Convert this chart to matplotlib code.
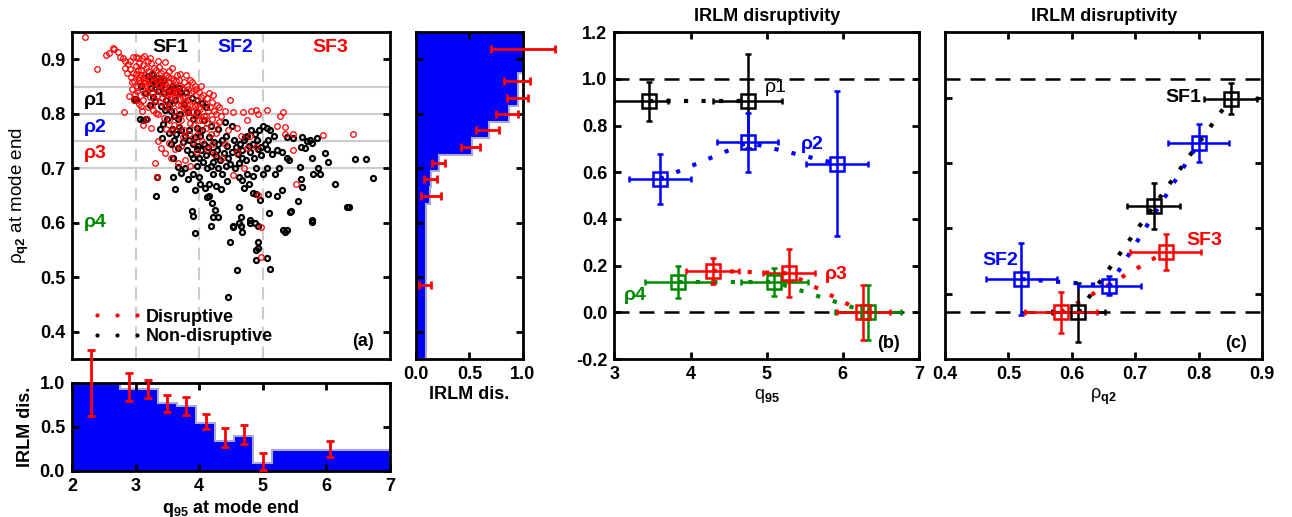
import numpy as np
import matplotlib
matplotlib.use("Agg")
import matplotlib.pyplot as plt
from matplotlib.lines import Line2D

# ======================= DATA =======================
# (a) scatter: q95 and rho_q2 at mode end
dis_q = [2.20, 2.40, 2.54, 2.58, 2.64, 2.66, 2.72, 2.76, 2.80, 2.84, 2.88, 2.92, 2.96, 3.00, 3.04, 3.10,
         2.92, 2.96, 3.00, 3.04, 3.08, 3.12, 3.16, 3.20, 3.24, 3.28, 3.32, 3.36, 3.40, 3.44, 3.48, 3.52,
         3.56, 3.60, 3.64, 3.70, 3.76, 3.82, 3.88, 3.94, 4.00, 4.06, 4.12, 4.20, 4.28, 3.58, 3.46, 3.70,
         2.95, 3.02, 3.06, 3.10, 3.14, 3.18, 3.22, 3.26, 3.30, 3.34, 3.38, 3.42, 3.46, 3.50, 3.54, 3.58,
         3.62, 3.66, 3.70, 3.74, 3.78, 3.82, 3.86, 3.90, 3.94, 3.98, 4.02, 4.08, 4.14, 4.20, 4.26, 4.32,
         4.40, 2.90, 2.98, 3.05, 3.12, 3.20, 3.28, 3.36, 3.44, 3.52, 3.60, 3.68, 3.76, 3.84, 3.92, 4.00,
         4.10, 4.18, 3.10, 3.18, 2.82, 3.25, 3.36, 3.40, 3.46, 3.52, 3.56, 3.62, 3.66, 3.72, 3.78, 3.86,
         3.30, 3.34, 3.90, 3.96, 4.04, 4.12, 4.20, 4.24, 4.48, 4.54, 4.69, 4.75, 4.90, 5.06, 4.93, 4.82,
         4.75, 4.90, 4.54, 4.93, 4.98, 4.98, 5.22, 5.32, 5.27, 5.35, 5.35, 5.48, 5.48, 5.53, 5.95, 6.42,
         4.60, 4.66, 4.45, 4.40, 4.36, 4.60, 4.80, 4.70, 3.05, 3.15, 3.25, 3.35, 3.45, 3.55, 3.65, 3.75,
         2.93, 2.97, 3.01, 3.03, 3.07, 3.09, 3.11, 3.13, 3.15, 3.17, 3.19, 3.21, 3.23, 3.27, 3.29, 3.31,
         3.33, 3.35, 3.37, 3.39, 3.41, 3.43, 3.47, 3.49, 3.51, 3.53, 3.55, 3.57, 3.59, 3.61, 3.63, 3.67,
         3.69, 3.71, 3.73, 3.77, 3.79, 3.81, 3.83, 3.87, 3.89, 3.91, 3.93, 3.97, 3.99, 4.03, 4.05, 4.09,
         4.13, 4.17, 4.23, 4.27, 4.31, 4.35, 3.02, 3.08, 2.94, 2.99, 3.26, 3.32, 3.47, 3.63, 3.71, 3.85,
         3.57, 3.74, 3.48, 3.97, 3.12, 2.87, 2.83, 3.05, 3.14, 3.22, 3.36, 3.43, 3.53, 3.65, 3.79, 3.85,
         3.95, 4.03, 4.15, 4.22, 3.74, 3.84, 4.00, 4.10, 4.26]
dis_rho = [0.942, 0.883, 0.908, 0.912, 0.921, 0.920, 0.914, 0.905, 0.903, 0.897, 0.892, 0.898, 0.905, 0.904, 0.903, 0.902,
           0.882, 0.875, 0.888, 0.880, 0.872, 0.890, 0.884, 0.878, 0.893, 0.870, 0.881, 0.866, 0.876, 0.862, 0.871, 0.858,
           0.866, 0.850, 0.860, 0.852, 0.859, 0.846, 0.858, 0.852, 0.840, 0.834, 0.829, 0.822, 0.816, 0.884, 0.895, 0.874,
           0.858, 0.850, 0.862, 0.845, 0.856, 0.841, 0.852, 0.838, 0.848, 0.833, 0.844, 0.829, 0.840, 0.825, 0.836, 0.820,
           0.831, 0.816, 0.827, 0.812, 0.823, 0.808, 0.818, 0.804, 0.814, 0.800, 0.810, 0.796, 0.806, 0.790, 0.800, 0.786,
           0.806, 0.833, 0.826, 0.818, 0.826, 0.812, 0.808, 0.800, 0.793, 0.788, 0.780, 0.776, 0.770, 0.764, 0.780, 0.770,
           0.775, 0.764, 0.805, 0.790, 0.803, 0.775, 0.750, 0.738, 0.728, 0.746, 0.720, 0.735, 0.710, 0.742, 0.715, 0.705,
           0.710, 0.685, 0.748, 0.730, 0.750, 0.735, 0.745, 0.726, 0.825, 0.804, 0.804, 0.789, 0.807, 0.807, 0.800, 0.805,
           0.737, 0.740, 0.688, 0.651, 0.593, 0.538, 0.777, 0.804, 0.796, 0.776, 0.764, 0.764, 0.734, 0.672, 0.761, 0.764,
           0.775, 0.760, 0.770, 0.745, 0.720, 0.730, 0.760, 0.700, 0.868, 0.860, 0.866, 0.855, 0.850, 0.842, 0.838, 0.830,
           0.867, 0.861, 0.873, 0.842, 0.857, 0.881, 0.866, 0.838, 0.872, 0.853, 0.897, 0.864, 0.832, 0.857, 0.884, 0.826,
           0.861, 0.853, 0.887, 0.822, 0.866, 0.847, 0.856, 0.836, 0.868, 0.812, 0.849, 0.831, 0.862, 0.805, 0.842, 0.838,
           0.862, 0.817, 0.846, 0.832, 0.807, 0.852, 0.826, 0.838, 0.815, 0.842, 0.797, 0.826, 0.812, 0.831, 0.789, 0.818,
           0.783, 0.812, 0.806, 0.779, 0.812, 0.797, 0.826, 0.815, 0.846, 0.837, 0.816, 0.802, 0.812, 0.797, 0.788, 0.783,
           0.768, 0.758, 0.772, 0.761, 0.779, 0.876, 0.885, 0.893, 0.906, 0.903, 0.897, 0.878, 0.879, 0.871, 0.871, 0.862,
           0.845, 0.851, 0.838, 0.835, 0.802, 0.795, 0.788, 0.797, 0.765]

nondis_q = [2.99, 3.00, 3.07, 3.12, 3.17, 3.41, 3.20, 3.26, 3.28, 3.24, 3.32, 3.36, 3.40, 3.44, 3.48, 3.40,
            3.46, 3.52, 3.56, 3.60, 3.66, 3.70, 3.50, 3.58, 3.64, 3.72, 3.78, 3.84, 3.90, 3.96, 4.02, 4.08,
            4.14, 4.20, 4.26, 4.30, 4.36, 4.42, 3.80, 3.88, 3.96, 4.04, 4.10, 3.70, 3.60, 3.90, 3.96, 4.00,
            4.06, 3.96, 4.12, 4.18, 4.22, 4.30, 4.36, 4.42, 4.46, 4.52, 4.58, 4.64, 4.70, 4.76, 4.82, 4.88,
            4.94, 5.00, 5.06, 5.12, 4.56, 4.62, 4.68, 4.74, 4.80, 4.86, 4.92, 4.98, 4.62, 4.68, 4.76, 4.84,
            4.90, 5.00, 5.06, 3.33, 3.59, 3.62, 3.59, 3.90, 3.78, 3.90, 3.93, 3.88, 3.90, 3.94, 3.99, 4.15,
            4.15, 4.20, 4.25, 4.12, 4.22, 4.30, 4.19, 4.48, 4.53, 4.63, 4.66, 4.59, 4.80, 4.88, 4.90, 4.90,
            5.06, 5.11, 4.93, 3.32, 4.45, 4.90, 5.09, 4.96, 4.63, 5.10, 5.44, 6.33, 4.66, 4.80, 4.93, 4.54,
            4.68, 5.35, 5.78, 4.93, 5.38, 5.30, 5.61, 5.66, 5.77, 5.38, 5.41, 5.58, 5.60, 5.62, 5.79, 5.77,
            5.87, 5.90, 5.98, 6.03, 6.14, 6.35, 6.45, 6.63, 6.73, 5.43, 5.32, 5.38, 5.77, 5.70, 5.75, 5.85,
            5.48, 5.22, 5.14, 5.06, 5.18, 5.25, 5.20, 5.30, 5.22, 5.55, 5.60, 3.26, 3.39, 3.57, 3.68, 2.97,
            3.38, 3.43, 3.52, 3.55, 3.61, 3.67, 3.69, 3.74, 3.81, 3.84, 3.87, 3.93, 3.98, 4.03, 4.05, 4.11,
            4.16, 4.21, 4.24, 4.28, 4.33, 4.39, 4.44, 4.49, 4.55, 4.61, 4.67, 4.72, 4.78, 4.85, 4.91, 4.97,
            5.03, 5.09, 3.27, 3.31, 3.35, 3.45, 3.53, 3.62, 3.76, 3.83, 3.97, 4.07, 4.19, 4.29, 4.41, 4.51,
            3.22, 3.15, 3.09, 4.01, 4.09, 4.27, 4.35, 4.44, 4.71, 4.79, 4.85, 3.71, 3.66, 3.82]
nondis_rho = [0.825, 0.828, 0.790, 0.788, 0.790, 0.755, 0.870, 0.862, 0.872, 0.848, 0.855, 0.842, 0.852, 0.838, 0.825, 0.815,
              0.808, 0.818, 0.806, 0.797, 0.790, 0.800, 0.790, 0.772, 0.764, 0.770, 0.760, 0.752, 0.790, 0.775, 0.760, 0.745,
              0.740, 0.730, 0.722, 0.745, 0.752, 0.760, 0.840, 0.830, 0.826, 0.820, 0.812, 0.840, 0.848, 0.745, 0.735, 0.720,
              0.712, 0.705, 0.700, 0.705, 0.690, 0.700, 0.690, 0.705, 0.720, 0.730, 0.740, 0.745, 0.752, 0.760, 0.770, 0.764,
              0.770, 0.777, 0.775, 0.770, 0.700, 0.710, 0.720, 0.715, 0.730, 0.720, 0.735, 0.740, 0.685, 0.678, 0.690, 0.686,
              0.700, 0.690, 0.700, 0.685, 0.685, 0.663, 0.720, 0.720, 0.700, 0.690, 0.660, 0.622, 0.613, 0.582, 0.685, 0.672,
              0.650, 0.636, 0.623, 0.648, 0.611, 0.610, 0.594, 0.565, 0.593, 0.600, 0.595, 0.513, 0.600, 0.600, 0.550, 0.532,
              0.535, 0.516, 0.565, 0.649, 0.464, 0.653, 0.653, 0.642, 0.629, 0.618, 0.622, 0.630, 0.610, 0.605, 0.595, 0.594,
              0.583, 0.583, 0.602, 0.553, 0.758, 0.730, 0.758, 0.737, 0.746, 0.720, 0.716, 0.703, 0.680, 0.666, 0.690, 0.720,
              0.700, 0.690, 0.728, 0.712, 0.672, 0.630, 0.718, 0.718, 0.682, 0.620, 0.587, 0.587, 0.605, 0.750, 0.752, 0.755,
              0.755, 0.734, 0.727, 0.736, 0.760, 0.700, 0.690, 0.660, 0.650, 0.640, 0.740, 0.874, 0.862, 0.852, 0.848, 0.828,
              0.773, 0.781, 0.765, 0.744, 0.752, 0.738, 0.776, 0.748, 0.733, 0.771, 0.727, 0.758, 0.742, 0.733, 0.771, 0.724,
              0.757, 0.712, 0.748, 0.733, 0.716, 0.728, 0.741, 0.709, 0.752, 0.726, 0.734, 0.757, 0.741, 0.745, 0.752, 0.725,
              0.745, 0.752, 0.832, 0.824, 0.866, 0.862, 0.842, 0.826, 0.818, 0.804, 0.803, 0.789, 0.778, 0.772, 0.786, 0.778,
              0.816, 0.839, 0.852, 0.672, 0.664, 0.668, 0.662, 0.676, 0.664, 0.671, 0.655, 0.691, 0.702, 0.681]

# bottom histogram: IRLM disruptivity vs q95
q_edges = [2.0, 2.75, 3.05, 3.35, 3.65, 3.95, 4.25, 4.55, 4.85, 5.15, 7.0]
q_frac = [1.0, 0.935, 0.935, 0.77, 0.735, 0.545, 0.345, 0.40, 0.095, 0.235]
q_err_x = [2.3, 2.9, 3.2, 3.5, 3.8, 4.1, 4.4, 4.7, 5.0, 6.05]
q_err_y = [1.0, 0.95, 0.93, 0.765, 0.74, 0.565, 0.38, 0.415, 0.11, 0.25]
q_err = [0.37, 0.16, 0.10, 0.10, 0.10, 0.085, 0.11, 0.11, 0.10, 0.086]

# right histogram: IRLM disruptivity vs rho_q2
rho_edges = [0.35, 0.635, 0.665, 0.695, 0.725, 0.755, 0.785, 0.815, 0.845, 0.875, 0.95]
rho_frac = [0.094, 0.135, 0.14, 0.214, 0.525, 0.686, 0.874, 0.96, 0.96, 1.0]
rho_err_y = [0.485, 0.65, 0.68, 0.71, 0.74, 0.77, 0.80, 0.83, 0.86, 0.92]
rho_err_x = [0.087, 0.14, 0.134, 0.21, 0.51, 0.67, 0.855, 0.95, 0.945, 1.0]
rho_err = [0.055, 0.09, 0.06, 0.063, 0.09, 0.105, 0.105, 0.095, 0.125, 0.30]

# (b) disruptivity vs q95 in rho bins
b_series = {
    "rho1": dict(q=[3.45, 4.75], d=[0.905, 0.905], dq=[[0.45, 0.45], [0.25, 0.45]], dd=[0.084, 0.20]),
    "rho2": dict(q=[3.60, 4.75, 5.92], d=[0.571, 0.728, 0.637], dq=[0.41, 0.405, 0.41], dd=[0.108, 0.126, 0.31]),
    "rho3": dict(q=[4.29, 5.29, 6.27], d=[0.178, 0.167, 0.0], dq=[0.345, 0.34, 0.35], dd=[0.056, 0.103, 0.117]),
    "rho4": dict(q=[3.84, 5.10, 6.33], d=[0.130, 0.130, 0.0], dq=[0.44, 0.44, 0.43], dd=[0.068, 0.06, 0.117]),
}
# (c) disruptivity vs rho_q2 in q95 bins
c_series = {
    "SF1": dict(r=[0.610, 0.729, 0.850], d=[0.0, 0.456, 0.916], dr=[0.042, 0.042, 0.042], dd=[0.125, 0.10, 0.067]),
    "SF2": dict(r=[0.520, 0.659, 0.800], d=[0.143, 0.114, 0.726], dr=[0.056, 0.05, 0.048], dd=[0.153, 0.04, 0.082]),
    "SF3": dict(r=[0.583, 0.748], d=[0.0, 0.26], dr=[0.057, 0.056], dd=[0.088, 0.077]),
}
# ====================================================

RED, BLUE, GREEN = "#ff0000", "#0000ff", "#008a00"
COLS = {"rho1": "k", "rho2": BLUE, "rho3": RED, "rho4": GREEN, "SF1": "k", "SF2": BLUE, "SF3": RED}

plt.rcParams["font.family"] = ["Liberation Sans", "DejaVu Sans"]
plt.rcParams["font.size"] = 13
plt.rcParams["font.weight"] = "bold"
plt.rcParams["mathtext.fontset"] = "custom"
plt.rcParams["mathtext.rm"] = "Liberation Sans"
plt.rcParams["mathtext.bf"] = "Liberation Sans:bold"
plt.rcParams["mathtext.it"] = "Liberation Sans:italic"
plt.rcParams["axes.linewidth"] = 2

def style(ax):
    ax.tick_params(direction="in", width=2, length=5, top=True, right=True, labelsize=13, pad=5)
    for lab in ax.get_xticklabels() + ax.get_yticklabels():
        lab.set_fontweight("bold")

def noclip(eb):
    for art in eb.lines[1] + eb.lines[2]:
        art.set_clip_on(False)

fig = plt.figure(figsize=(12.92, 5.17), dpi=100)
ax_a = fig.add_axes([0.0557, 0.3056, 0.2461, 0.632])
ax_q = fig.add_axes([0.0557, 0.0890, 0.2461, 0.1702])
ax_r = fig.add_axes([0.3220, 0.3056, 0.0826, 0.632])
ax_b = fig.add_axes([0.4755, 0.3056, 0.2358, 0.632])
ax_c = fig.add_axes([0.7314, 0.3056, 0.2456, 0.632])

# ---------- (a) scatter ----------
for y in [0.85, 0.80, 0.75, 0.70]:
    ax_a.axhline(y, color="#cccccc", lw=1.5, zorder=0)
for x in [3, 4, 5]:
    ax_a.axvline(x, color="#cccccc", lw=1.5, dashes=(6, 3.5), zorder=0)
ax_a.plot(nondis_q, nondis_rho, "o", ms=3.6, mfc="none", mec="k", mew=1.6, zorder=2)
ax_a.plot(dis_q, dis_rho, "o", ms=4, mfc="none", mec=RED, mew=0.9, zorder=3)
ax_a.set_xlim(2, 7)
ax_a.set_ylim(0.35, 0.95)
ax_a.set_xticks([])
ax_a.set_yticks([0.4, 0.5, 0.6, 0.7, 0.8, 0.9])
ax_a.set_ylabel("ρ$_{\\mathrm{q2}}$ at mode end", fontweight="normal", fontsize=13.5, labelpad=6)
for txt, x, c in [("SF1", 3.54, "k"), ("SF2", 4.56, BLUE), ("SF3", 6.06, RED)]:
    ax_a.text(x, 0.922, txt, color=c, ha="center", va="center", fontsize=14)
for txt, y, c in [("ρ1", 0.825, "k"), ("ρ2", 0.775, BLUE), ("ρ3", 0.727, RED), ("ρ4", 0.600, GREEN)]:
    ax_a.text(2.18, y, txt, color=c, ha="left", va="center", fontsize=14)
ax_a.text(6.75, 0.382, "(a)", ha="right", va="center", fontsize=13)
hand = [Line2D([], [], marker=".", ms=4, ls="none", color=RED),
        Line2D([], [], marker=".", ms=4, ls="none", color="k")]
ax_a.legend(hand, ["Disruptive", "Non-disruptive"], loc="lower left", bbox_to_anchor=(0.04, 0.02),
            frameon=False, numpoints=3, handlelength=2.8, handletextpad=0.2, labelspacing=0.15,
            borderaxespad=0, prop={"weight": "bold", "size": 13})
style(ax_a)

# ---------- bottom histogram ----------
ax_q.stairs(q_frac, q_edges, fill=True, color=BLUE, zorder=1)
ax_q.stairs(q_frac, q_edges, color="#a8a8d8", lw=1.5, zorder=1)
eb = ax_q.errorbar(q_err_x, q_err_y, yerr=q_err, fmt="none", ecolor=RED, elinewidth=2,
                   capsize=3, capthick=2, zorder=3)
noclip(eb)
ax_q.set_xlim(2, 7)
ax_q.set_ylim(0, 1.0)
ax_q.set_xticks([2, 3, 4, 5, 6, 7])
ax_q.set_yticks([0.0, 0.5, 1.0])
ax_q.set_yticklabels(["0.0", "0.5", "1.0"])
ax_q.set_xlabel("q$_{\\mathbf{95}}$ at mode end", fontweight="bold", labelpad=2)
ax_q.set_ylabel("IRLM dis.", fontweight="bold")
style(ax_q)

# ---------- right histogram ----------
ax_r.stairs(rho_frac, rho_edges, fill=True, color=BLUE, orientation="horizontal", zorder=1)
ax_r.stairs(rho_frac, rho_edges, color="#a8a8d8", lw=1.5, orientation="horizontal", zorder=1)
eb = ax_r.errorbar(rho_err_x, rho_err_y, xerr=rho_err, fmt="none", ecolor=RED, elinewidth=2,
                   capsize=3, capthick=2, zorder=3)
noclip(eb)
ax_r.set_xlim(0, 1.0)
ax_r.set_ylim(0.35, 0.95)
ax_r.set_xticks([0.0, 0.5, 1.0])
ax_r.set_xticklabels(["0.0", "0.5", "1.0"])
ax_r.set_yticks([0.4, 0.5, 0.6, 0.7, 0.8, 0.9])
ax_r.set_yticklabels([])
ax_r.set_xlabel("IRLM dis.", fontweight="bold", labelpad=2)
style(ax_r)

# ---------- (b) ----------
dots = dict(lw=3, dashes=(1, 3.2), dash_capstyle="butt")
for ax in (ax_b, ax_c):
    ax.axhline(1.0, color="k", lw=1.8, dashes=(6, 4), zorder=1)
    ax.axhline(0.0, color="k", lw=1.8, dashes=(6, 4), zorder=1)
for key in ["rho1", "rho2", "rho4", "rho3"]:
    s = b_series[key]
    c = COLS[key]
    ax_b.plot(s["q"], s["d"], color=c, zorder=2, **dots)
    ax_b.errorbar(s["q"], s["d"], xerr=s["dq"], yerr=s["dd"], fmt="s", ms=10, mfc="none",
                  mec=c, mew=1.8, ecolor=c, elinewidth=1.8, capsize=2, capthick=1.8, zorder=3)
ax_b.set_xlim(3, 7)
ax_b.set_ylim(-0.2, 1.2)
ax_b.set_xticks([3, 4, 5, 6, 7])
ax_b.set_yticks(np.round(np.arange(-0.2, 1.21, 0.2), 1))
ax_b.set_yticklabels(["-0.2", "0.0", "0.2", "0.4", "0.6", "0.8", "1.0", "1.2"])
ax_b.set_xlabel("q$_{\\mathrm{95}}$", fontweight="normal", labelpad=3)
ax_b.set_title("IRLM disruptivity", fontweight="bold", fontsize=13, pad=8)
ax_b.text(4.98, 0.965, "ρ1", color="k", ha="left", va="center", fontsize=14, fontweight="normal")
ax_b.text(5.45, 0.72, "ρ2", color=BLUE, ha="left", va="center", fontsize=14)
ax_b.text(5.76, 0.164, "ρ3", color=RED, ha="left", va="center", fontsize=14)
ax_b.text(3.13, 0.07, "ρ4", color=GREEN, ha="left", va="center", fontsize=14)
ax_b.text(6.75, -0.135, "(b)", ha="right", va="center", fontsize=13)
style(ax_b)

# ---------- (c) ----------
for key in ["SF1", "SF2", "SF3"]:
    s = c_series[key]
    c = COLS[key]
    ax_c.plot(s["r"], s["d"], color=c, zorder=2, **dots)
    ax_c.errorbar(s["r"], s["d"], xerr=s["dr"], yerr=s["dd"], fmt="s", ms=10, mfc="none",
                  mec=c, mew=1.8, ecolor=c, elinewidth=1.8, capsize=2, capthick=1.8, zorder=3)
ax_c.set_xlim(0.4, 0.9)
ax_c.set_ylim(-0.2, 1.2)
ax_c.set_xticks([0.4, 0.5, 0.6, 0.7, 0.8, 0.9])
ax_c.set_yticks([0.08, 0.36, 0.64, 0.92])
ax_c.set_yticklabels([])
ax_c.set_xlabel("ρ$_{\\mathrm{q2}}$", fontweight="normal", labelpad=3)
ax_c.set_title("IRLM disruptivity", fontweight="bold", fontsize=13, pad=8)
ax_c.text(0.776, 0.92, "SF1", color="k", ha="center", va="center", fontsize=14)
ax_c.text(0.487, 0.224, "SF2", color=BLUE, ha="center", va="center", fontsize=14)
ax_c.text(0.808, 0.307, "SF3", color=RED, ha="center", va="center", fontsize=14)
ax_c.text(0.875, -0.135, "(c)", ha="right", va="center", fontsize=13)
style(ax_c)

fig.savefig("out.png", dpi=100)
